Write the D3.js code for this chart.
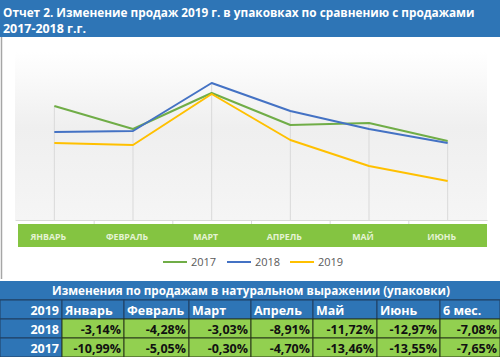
<!DOCTYPE html>
<html><head><meta charset="utf-8">
<script src="https://cdn.jsdelivr.net/npm/d3@7/dist/d3.min.js"></script>
<style>body{margin:0;background:#fff}svg{display:block}text{font-family:"Open Sans",sans-serif}</style>
</head><body><svg id="c" width="500" height="357"></svg>
<script>
const months = ["ЯНВАРЬ","ФЕВРАЛЬ","МАРТ","АПРЕЛЬ","МАЙ","ИЮНЬ"];
const years = ["2017","2018","2019"];
const s2017 = [114, 91, 127, 95, 97, 79];
const s2018 = [88, 89, 137, 109, 91, 77];
const s2019 = [77, 75, 126, 80, 54, 39];
const tableTitle = "Изменения по продажам в натуральном выражении (упаковки)";
const tableHeader = ["2019","Январь","Февраль","Март","Апрель","Май","Июнь","6 мес."];
const row2018 = ["-3,14%","-4,28%","-3,03%","-8,91%","-11,72%","-12,97%","-7,08%"];
const row2017 = ["-10,99%","-5,05%","-0,30%","-4,70%","-13,46%","-13,55%","-7,65%"];
const titleLines = ["Отчет 2. Изменение продаж 2019 г. в упаковках по сравнению с продажами","2017-2018 г.г."];

const svg = d3.select("#c");
const blue = "#2e75b6", tGreen = "#92d050";
const colors = {"2017":"#70ad47","2018":"#4472c4","2019":"#ffc000"};
const series = {"2017":s2017,"2018":s2018,"2019":s2019};

// fit text horizontally by scaling (Calibri-like narrow look)
function fitText(sel, x0, y0, width, anchor){
  const w = sel.node().getComputedTextLength();
  const sx = Math.min(1, width / w);
  let left = x0;
  if(anchor === "middle") left = x0 - w*sx/2;
  sel.attr("x",0).attr("y",0).attr("text-anchor","start")
     .attr("transform",`translate(${left},${y0}) scale(${sx},1)`);
}

// title bar
svg.append("rect").attr("x",0).attr("y",0).attr("width",500).attr("height",37).attr("fill",blue);
const t1 = svg.append("text").attr("fill","#fff").attr("font-weight","bold").attr("font-size",12.5).text(titleLines[0]);
fitText(t1, 3, 16.5, 472);
const t2 = svg.append("text").attr("fill","#fff").attr("font-weight","bold").attr("font-size",12.5).text(titleLines[1]);
fitText(t2, 3, 33, 83);
// left chart border
svg.append("line").attr("x1",1.5).attr("x2",1.5).attr("y1",37).attr("y2",279).attr("stroke","#a6a6a6").attr("stroke-width",1.5);

// plot area
const x = d3.scaleBand().domain(months).range([15,487]);
const y = d3.scaleLinear().domain([0,160]).range([220,60]);
const defs = svg.append("defs");
const g = defs.append("linearGradient").attr("id","bg").attr("x1",0).attr("x2",0).attr("y1",0).attr("y2",1);
g.append("stop").attr("offset","0").attr("stop-color","#ffffff");
g.append("stop").attr("offset","0.45").attr("stop-color","#efefef");
g.append("stop").attr("offset","1").attr("stop-color","#f5f5f5");
svg.append("rect").attr("x",15).attr("y",52).attr("width",472).attr("height",168).attr("fill","url(#bg)");

// axis
const ax = svg.append("g").attr("transform","translate(0,220)").call(d3.axisBottom(x).tickSize(0).tickFormat(""));
ax.select(".domain").attr("stroke","#d9d9d9");
months.slice(1).forEach(m=>{
  svg.append("line").attr("x1",x(m)+0.5).attr("x2",x(m)+0.5).attr("y1",220).attr("y2",224).attr("stroke","#d9d9d9");
});

// drop lines
months.forEach((m,i)=>{
  const mx = d3.max(years, yr=>series[yr][i]);
  svg.append("line").attr("x1",x(m)+x.bandwidth()/2).attr("x2",x(m)+x.bandwidth()/2)
    .attr("y1",y(mx)).attr("y2",220).attr("stroke","#d9d9d9").attr("stroke-width",1);
});

// lines
const line = d3.line().x((d,i)=>x(months[i])+x.bandwidth()/2).y(d=>y(d));
years.forEach(yr=>{
  svg.append("path").datum(series[yr]).attr("d",line).attr("fill","none")
    .attr("stroke",colors[yr]).attr("stroke-width",2).attr("stroke-linejoin","round");
});

// category band
svg.append("rect").attr("x",18).attr("y",224).attr("width",469).attr("height",23).attr("fill","#84c441");
months.forEach(m=>{
  svg.append("text").attr("x",x(m)+x.bandwidth()/2-6).attr("y",239.5).attr("text-anchor","middle")
    .attr("fill","#e4f3d4").attr("font-weight","bold").attr("font-size",8.8).text(m);
});

// legend
const lx = [163,227,290];
years.forEach((yr,i)=>{
  svg.append("line").attr("x1",lx[i]).attr("x2",lx[i]+24).attr("y1",262).attr("y2",262).attr("stroke",colors[yr]).attr("stroke-width",2);
  svg.append("text").attr("x",lx[i]+28).attr("y",266).attr("fill","#595959").attr("font-size",11).text(yr);
});

// table
const colEdges = [0,62,124,189,251,313,377,440,500];
const rowY = [281,300,319,338,357];
svg.append("rect").attr("x",0).attr("y",rowY[0]).attr("width",500).attr("height",rowY[1]-rowY[0]).attr("fill",blue);
const tt = svg.append("text").attr("fill","#fff").attr("font-weight","bold").attr("font-size",12.5).text(tableTitle);
fitText(tt, 251, 295, 398, "middle");
svg.append("line").attr("x1",0).attr("x2",500).attr("y1",rowY[1]).attr("y2",rowY[1]).attr("stroke","#1f3f60").attr("stroke-width",1);
// header row
tableHeader.forEach((h,i)=>{
  svg.append("rect").attr("x",colEdges[i]).attr("y",rowY[1]).attr("width",colEdges[i+1]-colEdges[i]).attr("height",19)
    .attr("fill",blue).attr("stroke","#1f3f60").attr("stroke-width",1);
  const t = svg.append("text").attr("y",rowY[1]+14.5).attr("fill","#fff").attr("font-weight","bold").attr("font-size",12.5).text(h);
  if(i===0) t.attr("x",colEdges[1]-3).attr("text-anchor","end");
  else t.attr("x",colEdges[i]+3);
});
[["2018",row2018],["2017",row2017]].forEach(([lab,vals],r)=>{
  const yy = rowY[2+r];
  svg.append("rect").attr("x",colEdges[0]).attr("y",yy).attr("width",62).attr("height",19).attr("fill",blue).attr("stroke","#1f3f60");
  svg.append("text").attr("x",colEdges[1]-3).attr("y",yy+14.5).attr("text-anchor","end").attr("fill","#fff")
    .attr("font-weight","bold").attr("font-size",12.5).text(lab);
  vals.forEach((v,i)=>{
    svg.append("rect").attr("x",colEdges[i+1]).attr("y",yy).attr("width",colEdges[i+2]-colEdges[i+1]).attr("height",19)
      .attr("fill",tGreen).attr("stroke","#2b3a1a").attr("stroke-width",1);
    svg.append("text").attr("x",colEdges[i+2]-3).attr("y",yy+14.5).attr("text-anchor","end").attr("fill","#111")
      .attr("font-weight","bold").attr("font-size",12.5).text(v);
  });
});
</script></body></html>
